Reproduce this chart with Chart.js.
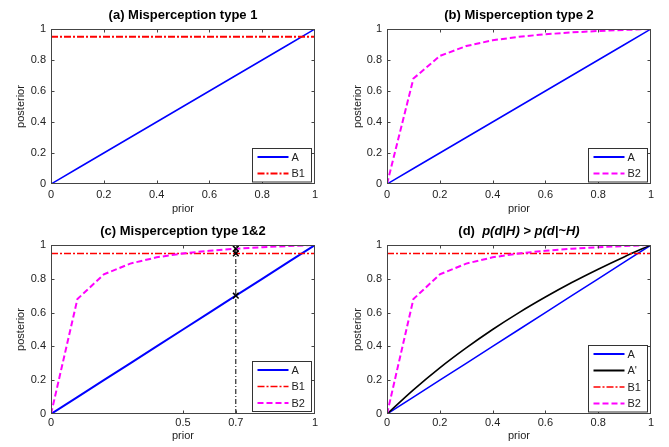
<!DOCTYPE html>
<html>
<head>
<meta charset="utf-8">
<script src="https://cdn.jsdelivr.net/npm/chart.js@4.4.0/dist/chart.umd.min.js"></script>
<style>
body{margin:0;background:#fff;}
#wrap{position:relative;width:669px;height:447px;background:#fff;}
#wrap canvas{position:absolute;}
</style>
</head>
<body>
<div id="wrap">
<canvas id="ca" width="333" height="224" style="left:0;top:0"></canvas>
<canvas id="cb" width="333" height="224" style="left:336px;top:0"></canvas>
<canvas id="cc" width="333" height="224" style="left:0;top:223px"></canvas>
<canvas id="cd" width="333" height="224" style="left:336px;top:223px"></canvas>
</div>
<script>
var prior = [0, 0.1, 0.2, 0.3, 0.4, 0.5, 0.6, 0.7, 0.8, 0.9, 1];
var postA = [0, 0.1, 0.2, 0.3, 0.4, 0.5, 0.6, 0.7, 0.8, 0.9, 1];
var postA2 = [0, 0.143, 0.273, 0.391, 0.5, 0.6, 0.692, 0.778, 0.857, 0.931, 1];//A'
var postB2 = [0, 0.68, 0.826, 0.89, 0.927, 0.95, 0.966, 0.978, 0.987, 0.994, 1];
var b1X = [0, 1];
var b1Y = [0.95, 0.95];
var markX = [0.7, 0.7, 0.7];
var markY = [0.7, 0.95, 0.978];
var guideX = [0.7, 0.7];
var guideY = [0, 0.978];
var xTicks = [0, 0.2, 0.4, 0.6, 0.8, 1];
var xTicksC = [0, 0.5, 0.7, 1];
var yTicks = [0, 0.2, 0.4, 0.6, 0.8, 1];

var FONT = '"Liberation Sans", Arial, Helvetica, sans-serif';

function pts(xs, ys){
    return xs.map(function(x, i){ return {x: x, y: ys[i]}; });
}

function dsA(w){
    return {label: 'A', data: pts(prior, postA), borderColor: '#0000ff', borderWidth: w, legendWidth: 2};
}
function dsA2(){
    return {label: "A'", data: pts(prior, postA2), borderColor: '#000000', borderWidth: 1.6, legendWidth: 2, cubicInterpolationMode: 'monotone'};
}
function dsB1(w){
    return {label: 'B1', data: pts(b1X, b1Y), borderColor: '#ff0000', borderWidth: w, borderDash: [7, 2, 2, 2]};
}
function dsB2(){
    return {label: 'B2', data: pts(prior, postB2), borderColor: '#ff00ff', borderWidth: 2, borderDash: [6, 3]};
}

// box round the axes + inward ticks, matlab style
var boxTicks = {
    id: 'boxTicks',
    afterDatasetsDraw: function(chart){
        var ctx = chart.ctx, a = chart.chartArea;
        var l = Math.round(a.left) + 0.5, r = Math.round(a.right) - 0.5;
        var t = Math.round(a.top) + 0.5, b = Math.round(a.bottom) - 0.5;
        ctx.save();
        ctx.strokeStyle = '#444';
        ctx.lineWidth = 1;
        ctx.setLineDash([]);
        ctx.strokeRect(l, t, r - l, b - t);
        ctx.beginPath();
        chart.scales.x.ticks.forEach(function(tk){
            var p = Math.round(chart.scales.x.getPixelForValue(tk.value)) + 0.5;
            if (p < l + 2 || p > r - 2) return;
            ctx.moveTo(p, b); ctx.lineTo(p, b - 3);
            ctx.moveTo(p, t); ctx.lineTo(p, t + 3);
        });
        chart.scales.y.ticks.forEach(function(tk){
            var p = Math.round(chart.scales.y.getPixelForValue(tk.value)) + 0.5;
            if (p < t + 2 || p > b - 2) return;
            ctx.moveTo(l, p); ctx.lineTo(l + 3, p);
            ctx.moveTo(r, p); ctx.lineTo(r - 3, p);
        });
        ctx.stroke();
        ctx.restore();
    }
};

// legend box in the lower right corner
var boxLegend = {
    id: 'boxLegend',
    afterDraw: function(chart){
        var items = chart.data.datasets.filter(function(d){ return d.label; });
        var ctx = chart.ctx, a = chart.chartArea;
        var w = 59, pad = 8.5, row = 16.5;
        var h = pad * 2 + row * (items.length - 1);
        var x = Math.round(a.right) - 4 - w + 0.5;
        var y = Math.round(a.bottom - 3 - h) + 0.5;
        ctx.save();
        ctx.fillStyle = '#fff';
        ctx.fillRect(x, y, w, h);
        ctx.strokeStyle = '#333';
        ctx.lineWidth = 1;
        ctx.strokeRect(x, y, w, h);
        ctx.font = '11px ' + FONT;
        ctx.textBaseline = 'middle';
        items.forEach(function(d, i){
            var cy = y + pad + row * i;
            ctx.beginPath();
            ctx.strokeStyle = d.borderColor;
            ctx.lineWidth = d.legendWidth || d.borderWidth;
            ctx.setLineDash(d.borderDash || []);
            ctx.moveTo(x + 5, cy);
            ctx.lineTo(x + 36, cy);
            ctx.stroke();
            ctx.setLineDash([]);
            ctx.fillStyle = '#222';
            ctx.fillText(d.label, x + 39, cy + 0.5);
        });
        ctx.restore();
    }
};

// title with bold / bold italic parts
var panelTitle = {
    id: 'panelTitle',
    afterDraw: function(chart, args, opts){
        var ctx = chart.ctx, a = chart.chartArea;
        var parts = opts.parts || [];
        ctx.save();
        ctx.fillStyle = '#000';
        ctx.textBaseline = 'middle';
        var total = 0;
        parts.forEach(function(p){
            ctx.font = (p.italic ? 'italic ' : '') + 'bold 13px ' + FONT;
            p.w = ctx.measureText(p.text).width;
            total += p.w;
        });
        var x = (a.left + a.right) / 2 - total / 2;
        parts.forEach(function(p){
            ctx.font = (p.italic ? 'italic ' : '') + 'bold 13px ' + FONT;
            ctx.fillText(p.text, x, a.top - 13.5);
            x += p.w;
        });
        ctx.restore();
    }
};

function makeChart(id, datasets, title, xt, top, xh, tickPad, xTitlePad, yTitlePad){
    datasets.forEach(function(d, i){
        d.order = datasets.length - i;
        if (d.pointRadius === undefined) d.pointRadius = 0;
        if (d.tension === undefined) d.tension = 0;
        d.fill = false;
    });
    return new Chart(document.getElementById(id).getContext('2d'), {
        type: 'line',
        data: {datasets: datasets},
        options: {
            responsive: false,
            animation: false,
            events: [],
            layout: {padding: {top: top, right: 18, left: 0, bottom: 0}},
            plugins: {
                legend: {display: false},
                tooltip: {enabled: false},
                panelTitle: {parts: title}
            },
            scales: {
                x: {
                    type: 'linear',
                    min: 0,
                    max: 1,
                    grid: {display: false, drawTicks: false},
                    border: {display: false},
                    afterBuildTicks: function(s){ s.ticks = xt.map(function(v){ return {value: v}; }); },
                    afterFit: function(s){ s.height = xh; },
                    ticks: {
                        padding: tickPad,
                        color: '#222',
                        font: {family: FONT, size: 11},
                        maxRotation: 0,
                        callback: function(v){ return String(v); }
                    },
                    title: {display: true, text: 'prior', color: '#222', font: {family: FONT, size: 11}, padding: {top: 0, bottom: xTitlePad}}
                },
                y: {
                    min: 0,
                    max: 1,
                    grid: {display: false, drawTicks: false},
                    border: {display: false},
                    afterBuildTicks: function(s){ s.ticks = yTicks.map(function(v){ return {value: v}; }); },
                    afterFit: function(s){ s.width = 51; },
                    ticks: {
                        padding: 5,
                        color: '#222',
                        font: {family: FONT, size: 11},
                        callback: function(v){ return String(v); }
                    },
                    title: {display: true, text: 'posterior', color: '#222', font: {family: FONT, size: 11}, padding: {top: yTitlePad, bottom: 0}}
                }
            }
        },
        plugins: [boxTicks, boxLegend, panelTitle]
    });
}

makeChart('ca', [dsA(1.5), dsB1(2)],
    [{text: '(a) Misperception type 1'}], xTicks, 29, 40, 4, 8.4, 14.4);

makeChart('cb', [dsA(1.5), dsB2()],
    [{text: '(b) Misperception type 2'}], xTicks, 29, 40, 4, 8.4, 15.4);

makeChart('cc', [
    dsA(2), dsB1(1.5), dsB2(),
    {data: pts(guideX, guideY), borderColor: '#000', borderWidth: 1, borderDash: [5, 2, 1, 2]},
    {data: pts(markX, markY), borderColor: '#000', borderWidth: 1.5, showLine: false, pointStyle: 'crossRot', pointRadius: 4}
], [{text: '(c) Misperception type 1&2'}], xTicksC, 22, 33, 2, 4.4, 14.4);

makeChart('cd', [dsA(1.5), dsA2(), dsB1(1.5), dsB2()],
    [{text: '(d)  '}, {text: 'p(d|H) > p(d|~H)', italic: true}], xTicks, 22, 33, 2, 4.4, 15.4);
</script>
</body>
</html>
